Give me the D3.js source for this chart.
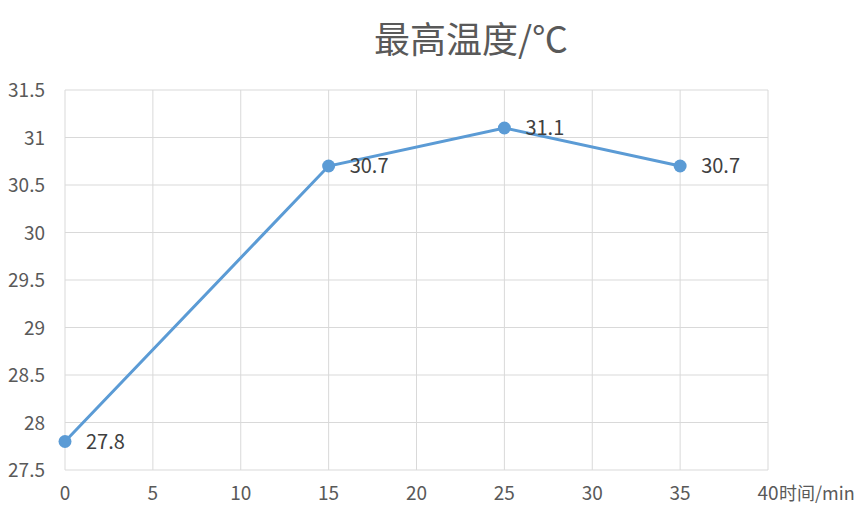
<!DOCTYPE html>
<html><head><meta charset="utf-8">
<script src="https://cdn.jsdelivr.net/npm/d3@7"></script>
<style>body{margin:0;background:#fff}</style>
</head><body><div id="chart"></div>
<script>
const times = [0, 15, 25, 35];
const temps = [27.8, 30.7, 31.1, 30.7];
const xTicks = [0, 5, 10, 15, 20, 25, 30, 35, 40];
const yTicks = [27.5, 28, 28.5, 29, 29.5, 30, 30.5, 31, 31.5];

const W = 865, H = 521;
const font = "'Noto Sans CJK SC', 'Open Sans', sans-serif";
const svg = d3.select("#chart").append("svg").attr("width", W).attr("height", H);

const x = d3.scaleLinear().domain([0, 40]).range([65, 768]);
const y = d3.scaleLinear().domain([27.5, 31.5]).range([470, 90]);

// grid
svg.append("g").selectAll("line").data(yTicks).enter().append("line")
    .attr("x1", x(0)).attr("x2", x(40))
    .attr("y1", d => y(d)).attr("y2", d => y(d))
    .attr("stroke", "#d9d9d9").attr("stroke-width", 1);
svg.append("g").selectAll("line").data(xTicks).enter().append("line")
    .attr("x1", d => x(d)).attr("x2", d => x(d))
    .attr("y1", y(27.5)).attr("y2", y(31.5))
    .attr("stroke", "#d9d9d9").attr("stroke-width", 1);

// tick labels
svg.append("g").selectAll("text").data(yTicks).enter().append("text")
    .attr("x", 45).attr("y", d => y(d) + 7)
    .attr("text-anchor", "end").attr("font-family", font).attr("font-size", 19)
    .attr("fill", "#595959").text(d => d);
svg.append("g").selectAll("text").data(xTicks).enter().append("text")
    .attr("x", d => x(d)).attr("y", 500)
    .attr("text-anchor", "middle").attr("font-family", font).attr("font-size", 19)
    .attr("fill", "#595959").text(d => d);
svg.append("text").attr("x", 779).attr("y", 500)
    .attr("font-family", font).attr("font-size", 18).attr("fill", "#595959")
    .text("时间/min");

// title
svg.append("text").attr("x", 471).attr("y", 53).attr("text-anchor", "middle")
    .attr("font-family", font).attr("font-size", 36).attr("fill", "#595959")
    .text("最高温度/℃");

const pts = times.map((t, i) => ({ t, v: temps[i] }));
svg.append("path").datum(pts)
    .attr("d", d3.line().x(d => x(d.t)).y(d => y(d.v)))
    .attr("fill", "none").attr("stroke", "#5b9bd5").attr("stroke-width", 3);
svg.append("g").selectAll("circle").data(pts).enter().append("circle")
    .attr("cx", d => x(d.t)).attr("cy", d => y(d.v)).attr("r", 6.5)
    .attr("fill", "#5b9bd5");
svg.append("g").selectAll("text").data(pts).enter().append("text")
    .attr("x", d => x(d.t) + 21).attr("y", d => y(d.v) + 7)
    .attr("font-family", font).attr("font-size", 20).attr("fill", "#404040")
    .text(d => d.v);
</script></body></html>
